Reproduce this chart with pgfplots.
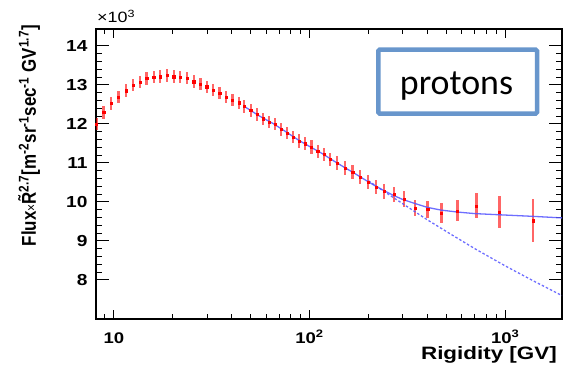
\documentclass[border=0pt]{standalone}
\usepackage{fontspec}
\setmainfont{Liberation Sans}
\newfontfamily\calibri{Carlito}
\usepackage{pgfplots}
\pgfplotsset{compat=1.18}
\usepackage{pgfplotstable}

\definecolor{fitblue}{RGB}{85,85,255}
\definecolor{boxblue}{RGB}{104,150,204}
\newcommand{\sx}[1]{\scalebox{1.2}[1]{#1}}

\pgfplotstableread{
R v e
8.15 11.99 0.16
8.86 12.29 0.16
9.65 12.52 0.16
10.56 12.69 0.16
11.52 12.85 0.16
12.5 12.99 0.16
13.6 13.07 0.16
14.7 13.16 0.16
15.97 13.20 0.16
17.25 13.21 0.16
18.7 13.24 0.16
20.2 13.21 0.16
21.8 13.20 0.16
23.6 13.17 0.16
25.6 13.08 0.16
27.7 13.02 0.16
29.8 12.95 0.16
32.2 12.87 0.16
34.7 12.79 0.16
37.4 12.69 0.16
40.4 12.61 0.16
43.5 12.54 0.16
46.4 12.45 0.16
50.0 12.34 0.16
54.0 12.24 0.16
57.7 12.13 0.16
62.1 12.05 0.16
66.6 11.99 0.16
71.6 11.86 0.16
76.6 11.77 0.16
82.3 11.66 0.16
88.2 11.56 0.17
94.9 11.49 0.17
102.3 11.41 0.17
110 11.29 0.17
118.5 11.22 0.17
127 11.09 0.17
138 11.00 0.17
152 10.87 0.17
166 10.76 0.18
181 10.64 0.18
199 10.50 0.18
219 10.37 0.18
240 10.27 0.19
271 10.19 0.19
304 10.07 0.20
347 9.84 0.21
401 9.81 0.22
472 9.72 0.25
570 9.77 0.27
713 9.90 0.32
935 9.74 0.41
1384 9.52 0.55
}\protondata

\pgfplotstableread{
R v
46.6 12.44
55 12.21
65 12.01
75 11.81
88 11.58
100 11.42
115 11.25
130 11.08
150 10.89
170 10.73
190 10.58
215 10.42
240 10.29
270 10.16
300 10.06
350 9.95
400 9.86
470 9.79
570 9.74
700 9.70
935 9.67
1384 9.63
1950 9.59
}\fitsolid

\pgfplotstableread{
R v
200 10.54
240 10.27
300 9.95
400 9.54
520 9.19
700 8.80
1000 8.36
1400 7.97
1950 7.60
}\fitdashed

\begin{document}
\begin{tikzpicture}
\path[use as bounding box] (-96bp,-52bp) rectangle (467bp,319bp);
% first axis: y ticks only
\begin{axis}[
  at={(0,0)}, anchor=south west,
  scale only axis, width=466bp, height=290bp,
  xmode=log, xmin=8.1, xmax=1950, ymin=7, ymax=14.43,
  axis line style={line width=1.3bp},
  tick style={line width=1bp, black},
  tick align=inside,
  xtick=\empty, minor xtick={},
  ytick={8,9,10,11,12,13,14}, minor y tick num=4,
  yticklabels={\sx{8},\sx{9},\sx{10},\sx{11},\sx{12},\sx{13},\sx{14}},
  major tick length=13bp, minor tick length=6.5bp,
  yticklabel style={font=\bfseries\fontsize{16}{16}\selectfont, anchor=east, xshift=-5bp},
]
\end{axis}
% main axis: x ticks and data (drawn on top)
\begin{axis}[
  at={(0,0)}, anchor=south west,
  scale only axis, width=466bp, height=290bp,
  xmode=log, xmin=8.1, xmax=1950, ymin=7, ymax=14.43,
  axis line style={line width=1.3bp},
  tick style={line width=1bp, black},
  tick align=inside,
  xtick={10,100,1000},
  xticklabels={\sx{10},\sx{10\textsuperscript{2}},\sx{10\textsuperscript{3}}},
  minor xtick={9,20,30,40,50,60,70,80,90,200,300,400,500,600,700,800,900},
  ytick=\empty,
  major tick length=9bp, minor tick length=5bp,
  xticklabel style={font=\bfseries\fontsize{15.5}{15.5}\selectfont, anchor=base, yshift=-24bp},
]
\addplot[only marks, mark=square*, mark size=1.1bp, mark options={draw=red, fill=red},
  error bars/.cd, y dir=both, y explicit, error mark=none,
  error bar style={line width=2.3bp, red, opacity=0.6}]
  table[x=R, y=v, y error=e] {\protondata};
\addplot[fitblue, line width=1.3bp, opacity=0.85] table[x=R, y=v] {\fitsolid};
\addplot[fitblue, line width=1.3bp, opacity=0.85, dash pattern=on 2.5bp off 2bp] table[x=R, y=v] {\fitdashed};
\end{axis}
% exponent label
\node[anchor=base west, inner sep=0pt, font=\fontsize{15}{15}\selectfont] at (1bp,296bp) {\scalebox{1.2}[1]{×10\textsuperscript{3}}};
% y label
\node[rotate=90, anchor=base east, inner sep=0pt, font=\bfseries\fontsize{17}{17}\selectfont] at (-60bp,294bp)
  {\scalebox{1}[1.18]{Flux{\mdseries\fontsize{12}{12}\selectfont ×}\~{R}\textsuperscript{2.7}[m\textsuperscript{-2}sr\textsuperscript{-1}sec\textsuperscript{-1} GV\textsuperscript{1.7}]}};
% x label
\node[anchor=base east, inner sep=0pt, font=\bfseries\fontsize{18}{18}\selectfont] at (461bp,-40bp) {\scalebox{1.25}[1]{Rigidity [GV]}};
% protons box
\draw[boxblue, fill=white, line width=4.5bp, rounded corners=1.5bp] (282.3bp,205.3bp) rectangle (441bp,269.4bp);
\node[anchor=base, inner sep=0pt, font=\calibri\fontsize{36}{36}\selectfont] at (360.5bp,224bp) {protons};
\end{tikzpicture}
\end{document}
